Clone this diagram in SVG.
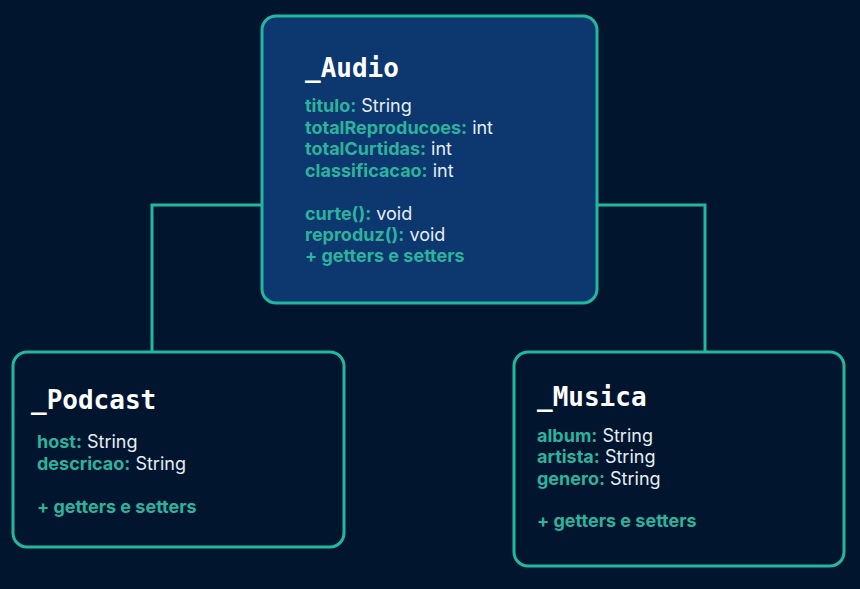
<svg xmlns="http://www.w3.org/2000/svg" width="860" height="589" viewBox="0 0 860 589">
<style>
.box{stroke:#22b8a0;stroke-width:3}
.title{font-family:"DejaVu Sans Mono",monospace;font-weight:bold;font-size:26px;fill:#ffffff}
.t{font-family:Inter,"Liberation Sans",sans-serif;font-size:18px;fill:#e8eef5}
.k{font-weight:bold;fill:#2db39c}
.conn{fill:none;stroke:#22b8a0;stroke-width:3}
</style>
<rect width="860" height="589" fill="#02152f"/>
<g id="connectors">
<path class="conn" d="M262 205 H152 V352"/>
<path class="conn" d="M597 205 H705 V352"/>
</g>
<g id="audio">
<rect class="box" x="262" y="16" width="335" height="287" rx="14" fill="#0c376f"/>
<text class="title" x="305" y="77">_Audio</text>
<text class="t" x="305" y="112"><tspan class="k">titulo:</tspan> String</text>
<text class="t" x="305" y="134"><tspan class="k">totalReproducoes:</tspan> int</text>
<text class="t" x="305" y="155"><tspan class="k">totalCurtidas:</tspan> int</text>
<text class="t" x="305" y="177"><tspan class="k">classificacao:</tspan> int</text>
<text class="t" x="305" y="220"><tspan class="k">curte():</tspan> void</text>
<text class="t" x="305" y="241"><tspan class="k">reproduz():</tspan> void</text>
<text class="t k" x="305" y="262">+ getters e setters</text>
</g>
<g id="podcast">
<rect class="box" x="13" y="352" width="331" height="195" rx="14" fill="#02152f"/>
<text class="title" x="31" y="409">_Podcast</text>
<text class="t" x="37" y="448"><tspan class="k">host:</tspan> String</text>
<text class="t" x="37" y="470"><tspan class="k">descricao:</tspan> String</text>
<text class="t k" x="37" y="513">+ getters e setters</text>
</g>
<g id="musica">
<rect class="box" x="514" y="352" width="330" height="214" rx="14" fill="#02152f"/>
<text class="title" x="537" y="406">_Musica</text>
<text class="t" x="537" y="442"><tspan class="k">album:</tspan> String</text>
<text class="t" x="537" y="463"><tspan class="k">artista:</tspan> String</text>
<text class="t" x="537" y="485"><tspan class="k">genero:</tspan> String</text>
<text class="t k" x="537" y="527">+ getters e setters</text>
</g>
</svg>
